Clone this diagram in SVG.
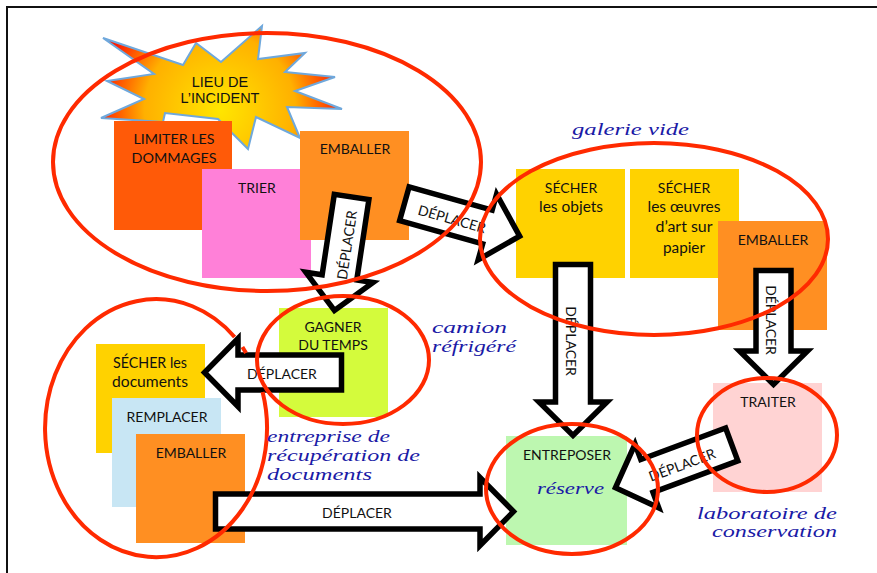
<svg xmlns="http://www.w3.org/2000/svg" width="877" height="573" viewBox="0 0 877 573">
<style>
.t{font-family:Lato,"Noto Sans",sans-serif;font-size:14px;fill:#111;text-anchor:middle}
.lc{font-size:15.5px}
.s{font-family:"Liberation Serif",cursive;font-style:italic;font-size:17px;fill:#1a1aa6}
.a{fill:#fff;stroke:#000;stroke-width:5.5;stroke-linejoin:miter;stroke-miterlimit:10}
.e{fill:none;stroke:#ff2a00;stroke-width:4}
.b{stroke:#6fa8dc;stroke-width:2;fill:url(#g)}
.l{font-family:"Liberation Sans",Arial,sans-serif;font-size:14.5px;fill:#111;text-anchor:middle}
</style>
<defs>
<radialGradient id="g" gradientUnits="userSpaceOnUse" cx="220" cy="110" r="122">
<stop offset="0" stop-color="#ffe600"/><stop offset=".62" stop-color="#ffb000"/><stop offset="1" stop-color="#ff1a00"/>
</radialGradient>
</defs>
<rect width="877" height="573" fill="#fff"/>
<path d="M7 573V7H877" fill="none" stroke="#111" stroke-width="2"/>
<g id="incident">
<polygon class="b" points="103,38 183,65 196,43 221,62 262,26 258,59 305,53 285,72 335,77 295,91 342,109 287,107 300,138 256,117 248,149 218,119 165,113 163,122 101,118 144,99 107,81 154,74"/>
<text class="l" x="220" y="87">LIEU DE</text><text class="l" x="220" y="103">L’INCIDENT</text>
</g>
<g id="limiter"><rect x="114" y="121" width="118" height="109" fill="#ff5a08"/><text class="t" x="174" y="144" textLength="81" lengthAdjust="spacingAndGlyphs">LIMITER LES</text><text class="t" x="174" y="163" textLength="85" lengthAdjust="spacingAndGlyphs">DOMMAGES</text></g>
<g id="trier"><rect x="202" y="169" width="109" height="109" fill="#ff80d8"/><text class="t" x="257" y="193">TRIER</text></g>
<g id="emballer1"><rect x="300" y="131" width="109" height="109" fill="#ff8f22"/><text class="t" x="355" y="154">EMBALLER</text></g>
<g id="secher-objets"><rect x="516" y="169" width="109" height="109" fill="#ffd200"/><text class="t" x="571" y="193">SÉCHER</text><text class="t lc" x="571" y="212" textLength="64" lengthAdjust="spacingAndGlyphs">les objets</text></g>
<g id="secher-papier"><rect x="630" y="169" width="109" height="109" fill="#ffd200"/><text class="t" x="684" y="193">SÉCHER</text><text class="t lc" x="684" y="212" textLength="73" lengthAdjust="spacingAndGlyphs">les œuvres</text><text class="t lc" x="684" y="232" textLength="57" lengthAdjust="spacingAndGlyphs">d’art sur</text><text class="t lc" x="684" y="253" textLength="42" lengthAdjust="spacingAndGlyphs">papier</text></g>
<g id="emballer2"><rect x="718" y="221" width="109" height="109" fill="#ff8f22"/><text class="t" x="773" y="245">EMBALLER</text></g>
<g id="gagner"><rect x="279" y="308" width="109" height="109" fill="#d4fb3c"/><text class="t" x="333" y="332">GAGNER</text><text class="t" x="333" y="350">DU TEMPS</text></g>
<g id="secher-documents"><rect x="96" y="344" width="109" height="109" fill="#ffd200"/><text class="t lc" x="150" y="368" textLength="74" lengthAdjust="spacingAndGlyphs">SÉCHER les</text><text class="t lc" x="150" y="387" textLength="76" lengthAdjust="spacingAndGlyphs">documents</text></g>
<g id="remplacer"><rect x="112" y="398" width="109" height="109" fill="#c8e6f4"/><text class="t" x="167" y="422">REMPLACER</text></g>
<g id="emballer3"><rect x="136" y="434" width="109" height="109" fill="#ff8f22"/><text class="t" x="191" y="458">EMBALLER</text></g>
<g id="entreposer"><rect x="506" y="436" width="121" height="109" fill="#bdf7b0"/><text class="t" x="567" y="460">ENTREPOSER</text><text class="s" x="537" y="494" textLength="67" lengthAdjust="spacingAndGlyphs">réserve</text></g>
<g id="traiter"><rect x="713" y="383" width="109" height="109" fill="#ffd3d3"/><text class="t" x="768" y="407">TRAITER</text></g>
<g id="connectors">
<polygon class="a" transform="translate(351.6 197) rotate(98.6)" points="0,-17.5 81.3,-17.5 81.3,-34 114.8,0 81.3,34 81.3,17.5 0,17.5"/>
<polygon class="a" transform="translate(404.4 203.7) rotate(15.7)" points="0,-17.5 86.2,-17.5 86.2,-34 119.7,0 86.2,34 86.2,17.5 0,17.5"/>
<polygon class="a" transform="translate(573 264.5) rotate(90)" points="0,-17.5 137.5,-17.5 137.5,-34 171,0 137.5,34 137.5,17.5 0,17.5"/>
<polygon class="a" transform="translate(773.5 270.5) rotate(90)" points="0,-17.5 80.5,-17.5 80.5,-34 114,0 80.5,34 80.5,17.5 0,17.5"/>
<polygon class="a" transform="translate(341.5 372.5) rotate(180)" points="0,-17.5 103.5,-17.5 103.5,-34 137,0 103.5,34 103.5,17.5 0,17.5"/>
<polygon class="a" transform="translate(215.5 511.5)" points="0,-17.5 264.5,-17.5 264.5,-34 298,0 264.5,34 264.5,17.5 0,17.5"/>
<polygon class="a" transform="translate(731.7 444.4) rotate(159.6)" points="0,-17.5 90.5,-17.5 90.5,-34 124,0 90.5,34 90.5,17.5 0,17.5"/>
<text class="t" transform="translate(347 245) rotate(-81.4)" y="5">DÉPLACER</text>
<text class="t" transform="translate(452 219) rotate(15.7)" y="5">DÉPLACER</text>
<text class="t" transform="translate(571 341) rotate(90)" y="5">DÉPLACER</text>
<text class="t" transform="translate(771 320) rotate(90)" y="5">DÉPLACER</text>
<text class="t" x="282" y="379">DÉPLACER</text>
<text class="t" x="357" y="518">DÉPLACER</text>
<text class="t" transform="translate(682 465) rotate(-20.4)" y="5">DÉPLACER</text>
</g>
<g id="zones">
<ellipse class="e" cx="267" cy="162" rx="214" ry="129"/>
<ellipse class="e" cx="654" cy="239" rx="174" ry="96"/>
<ellipse class="e" cx="343" cy="360" rx="86" ry="64"/>
<path class="e" d="M262.6 392A111 129 0 1 1 234.6 337M242.4 347A111 129 0 0 1 246 353"/>
<ellipse class="e" cx="572" cy="489" rx="86" ry="65"/>
<ellipse class="e" cx="767" cy="435" rx="70" ry="57"/>
</g>
<g id="lieux">
<text class="s" x="572" y="135" textLength="117" lengthAdjust="spacingAndGlyphs">galerie vide</text>
<text class="s" x="432" y="333" textLength="75" lengthAdjust="spacingAndGlyphs">camion</text>
<text class="s" x="432" y="352" textLength="84" lengthAdjust="spacingAndGlyphs">réfrigéré</text>
<text class="s" x="267" y="442" textLength="123" lengthAdjust="spacingAndGlyphs">entreprise de</text>
<text class="s" x="267" y="461" textLength="153" lengthAdjust="spacingAndGlyphs">récupération de</text>
<text class="s" x="267" y="480" textLength="105" lengthAdjust="spacingAndGlyphs">documents</text>
<text class="s" x="697" y="519" textLength="140" lengthAdjust="spacingAndGlyphs">laboratoire de</text>
<text class="s" x="712" y="537" textLength="125" lengthAdjust="spacingAndGlyphs">conservation</text>
</g>
</svg>
